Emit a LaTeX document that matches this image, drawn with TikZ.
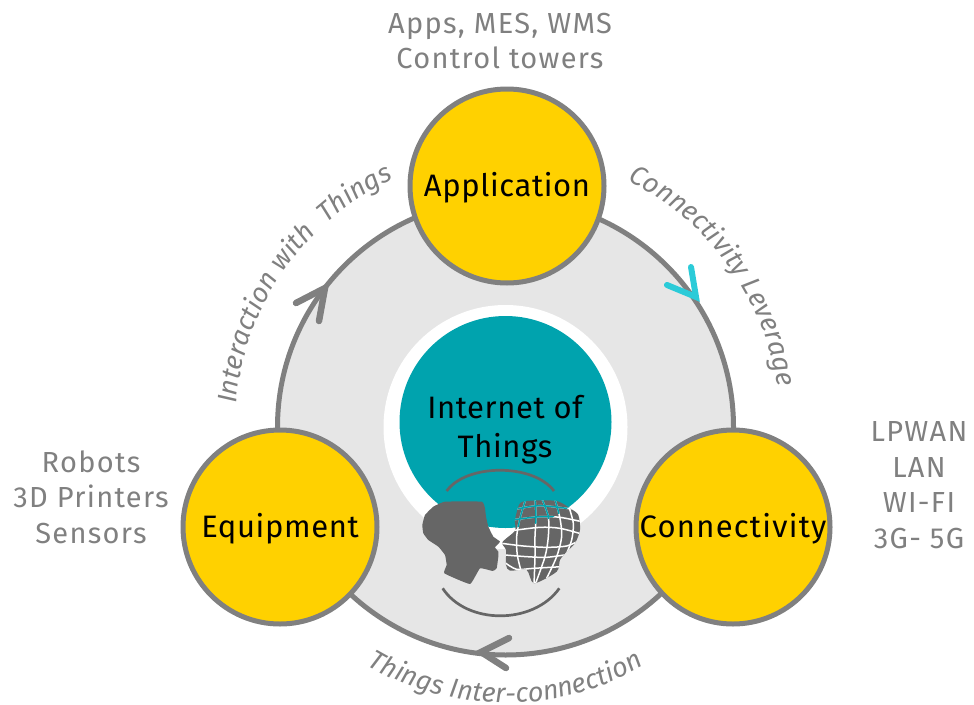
\documentclass[tikz,border=0pt]{standalone}
\usepackage{fontspec}
\setmainfont{Fira Sans}
\usetikzlibrary{decorations.text}
\definecolor{ygold}{HTML}{FFD100}
\definecolor{yteal}{HTML}{00A3AE}
\definecolor{ydisc}{HTML}{E6E6E6}
\definecolor{ygray}{HTML}{808080}
\definecolor{ydark}{HTML}{666666}
\definecolor{ycyan}{HTML}{2BCBD8}
\newcommand{\ArcFont}{\fontsize{27}{27}\selectfont\itshape\color{ygray}}
\newfontfamily\sidefont[LetterSpace=4.5]{Fira Sans}
\newfontfamily\hubfont[LetterSpace=2]{Fira Sans}
\newcommand{\HubLabel}[1]{\raisebox{-10.5pt}[0pt][0pt]{#1}}
\tikzset{
  hub/.style={circle,draw=ygray,line width=5pt,fill=ygold,minimum size=194pt,inner sep=0pt,font=\hubfont\fontsize{31}{34}\selectfont,text=black},
  sidetext/.style={align=center,text=ygray,font=\sidefont\fontsize{29}{35.5}\selectfont,inner sep=0pt},
  chevron/.style={line width=6.5pt,line cap=round,line join=miter,draw=ygray},
  smallarc/.style={line width=2.7pt,draw=ydark},
  gridline/.style={line width=1.5pt,smooth}
}
\newcommand{\GlobeShape}{plot[smooth cycle,tension=0.45] coordinates {(307,307)(345,272)(345,240)(360,190)(395,182)(470,183)(510,205)(535,225)(540,270)(525,310)(500,335)(480,360)(470,395)(402,430)(380,390)(330,392)(318,375)(318,330)}}
\newcommand{\GlobeGrid}{
  \draw[gridline] plot coordinates {(378,175)(360,235)(350,290)(352,345)(365,400)};
  \draw[gridline] plot coordinates {(405,175)(408,230)(405,290)(405,350)(402,435)};
  \draw[gridline] plot coordinates {(425,175)(445,230)(445,290)(435,350)(405,435)};
  \draw[gridline] plot coordinates {(465,178)(480,235)(485,290)(470,350)(440,415)};
  \draw[gridline] plot coordinates {(505,195)(520,250)(515,300)(500,340)};
  \draw[gridline] plot coordinates {(350,207)(420,197)(515,207)};
  \draw[gridline] plot coordinates {(335,240)(420,230)(480,232)(545,245)};
  \draw[gridline] plot coordinates {(335,272)(420,262)(480,265)(545,282)};
  \draw[gridline] plot coordinates {(305,310)(370,318)(440,322)(500,318)(535,303)};
  \draw[gridline] plot coordinates {(315,345)(380,350)(440,352)(505,343)};
  \draw[gridline] plot coordinates {(315,368)(350,388)(400,385)(485,380)};
}
\begin{document}
\begin{tikzpicture}[x=1pt,y=-1pt]
\useasboundingbox (0,0) rectangle (974,704);
% big disc and centre
\node[circle,draw=ygray,line width=5pt,fill=ydisc,minimum size=456pt,inner sep=0pt] (disc) at (505.5,427) {};
\node[circle,fill=white,minimum size=244pt,inner sep=0pt] (halo) at (505.5,427) {};
\node[circle,fill=yteal,minimum size=212pt,inner sep=0pt] (core) at (505.5,422) {};
\node[align=center,text=black,font=\hubfont\fontsize{31}{39}\selectfont,inner sep=0pt] (coretext) at (505,430) {Internet of\\Things};
% hubs
\node[hub] (app) at (507,186) {\HubLabel{Application}};
\node[hub] (equip) at (280,527) {\HubLabel{Equipment}};
\node[hub] (conn) at (733,527) {\HubLabel{\addfontfeature{LetterSpace=4}Connectivity}};
% side labels
\node[sidetext] (appsl) at (500,41) {Apps, MES, WMS\\Control towers};
\node[sidetext] (equipl) at (91,497) {Robots\\3D Printers\\Sensors};
\node[sidetext] (connl) at (919,485) {LPWAN\\LAN\\WI-FI\\3G- 5G};
% curved labels
\path[decorate,decoration={text along path,text align=center,text={|\ArcFont|Connectivity Leverage}}]
  plot[domain=-67:-5,samples=80] ({505.5+275*cos(\x)},{427+275*sin(\x)});
\path[decorate,decoration={text along path,text align=center,text={|\ArcFont|Interaction with{\ } Things}}]
  plot[domain=-178:-112,samples=80] ({505.5+270*cos(\x)},{425+270*sin(\x)});
\path[decorate,decoration={text along path,text align=center,text={|\ArcFont|Things Inter-connection}}]
  plot[domain=122:58,samples=80] ({505.5+274*cos(\x)},{429+274*sin(\x)});
% direction chevrons
\coordinate (ga1) at (296,303); \coordinate (gaTip) at (325,288); \coordinate (ga2) at (319,321);
\coordinate (ca1) at (667,285); \coordinate (caTip) at (696,297); \coordinate (ca2) at (691,267);
\coordinate (ba1) at (509,638); \coordinate (baTip) at (481,652); \coordinate (ba2) at (506,668);
\draw[chevron] (ga1) -- (gaTip) -- (ga2);
\draw[chevron,draw=ycyan,line width=6pt] (ca1) -- (caTip) -- (ca2);
\draw[chevron] (ba1) -- (baTip) -- (ba2);
% icon (crop coordinates at one third scale)
\begin{scope}[shift={(400,440)},x=0.3333pt,y=-0.3333pt]
  \draw[smallarc] (140,153) .. controls (200,70) and (400,70) .. (462,153);
  \draw[smallarc] (128,445) .. controls (200,555) and (400,555) .. (478,445);
  \fill[ydark] plot[smooth cycle,tension=0.2] coordinates {(67,255)(70,280)(85,300)(115,320)(135,345)(140,375)(133,400)(210,432)(240,385)(278,393)(290,385)(295,350)(295,335)(285,322)(300,305)(280,290)(265,260)(258,230)(255,205)(245,185)(135,185)(100,200)(75,225)};
  \begin{scope}
    \fill[ydark] \GlobeShape;
    \clip \GlobeShape;
    \begin{scope}[white]\GlobeGrid\end{scope}
    \begin{scope}
      \clip (318,-54) circle[radius=318];
      \begin{scope}[yteal]\GlobeGrid\end{scope}
    \end{scope}
  \end{scope}
\end{scope}
\end{tikzpicture}
\end{document}
